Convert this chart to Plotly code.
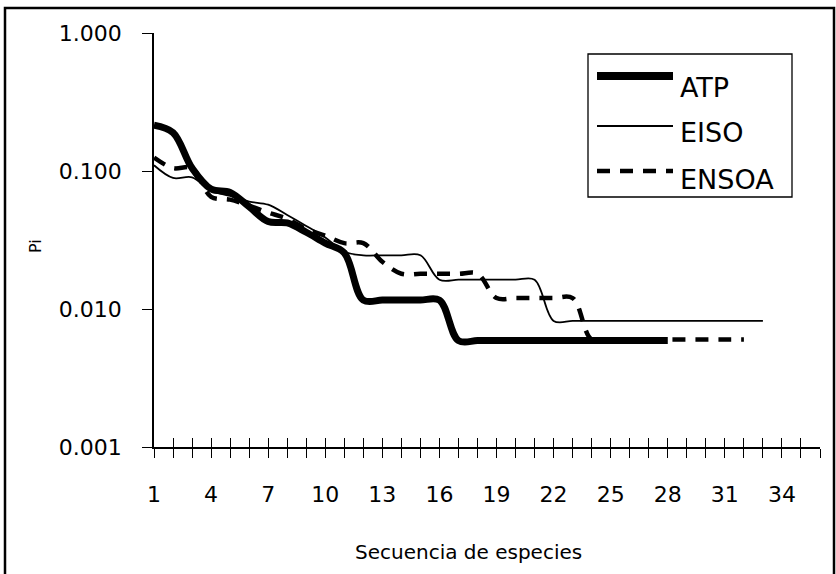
import plotly.graph_objects as go

# ---- data ----
atp = [0.215, 0.19, 0.105, 0.074, 0.070, 0.055, 0.043, 0.042, 0.036, 0.030, 0.0255,
       0.0116, 0.0116, 0.0116, 0.0116, 0.0116,
       0.0059, 0.0059, 0.0059, 0.0059, 0.0059, 0.0059, 0.0059, 0.0059, 0.0059, 0.0059, 0.0059, 0.0059]
eiso = [0.11, 0.089, 0.09, 0.072, 0.066, 0.060, 0.057, 0.048, 0.040, 0.033, 0.026,
        0.0245, 0.0245, 0.0245, 0.0245,
        0.0163, 0.0163, 0.0163, 0.0163, 0.0163, 0.0163,
        0.0082, 0.0082, 0.0082, 0.0082, 0.0082, 0.0082, 0.0082, 0.0082, 0.0082, 0.0082, 0.0082, 0.0082]
ensoa = [0.125, 0.105, 0.105, 0.065, 0.062, 0.056, 0.050, 0.045, 0.038, 0.034, 0.030, 0.030,
         0.022, 0.018, 0.018, 0.018, 0.018, 0.018,
         0.012, 0.012, 0.012, 0.012, 0.012,
         0.006, 0.006, 0.006, 0.006, 0.006, 0.006, 0.006, 0.006, 0.006]
series_names = ["ATP", "EISO", "ENSOA"]
x_tick_vals = list(range(1, 37))
x_tick_text = [str(v) if (v - 1) % 3 == 0 else "" for v in x_tick_vals]
y_tick_vals = [0.001, 0.01, 0.1, 1.0]
y_tick_text = ["0.001", "0.010", "0.100", "1.000"]

FONT = "DejaVu Sans"

fig = go.Figure()
styles = [dict(width=7, dash="solid"), dict(width=1.8, dash="solid"), dict(width=4.5, dash="13px,10px")]
for name, vals, st in zip(series_names, [atp, eiso, ensoa], styles):
    fig.add_trace(go.Scatter(
        x=list(range(1, len(vals) + 1)), y=vals, mode="lines", name=name,
        line=dict(color="black", width=st["width"], dash=st["dash"], shape="spline", smoothing=1.0),
        showlegend=False, xaxis="x", yaxis="y"))

# plot area geometry (pixels)
W, H = 836, 574
L, R, T, B = 154, 16, 33, 127
pw, ph = W - L - R, H - T - B
def px(x):
    return (x - L) / pw
def py(y):
    return (H - B - y) / ph

fig.update_layout(
    width=W, height=H,
    margin=dict(l=L, r=R, t=T, b=B, autoexpand=False),
    paper_bgcolor="white", plot_bgcolor="white",
    font=dict(family=FONT, color="black"),
    xaxis=dict(range=[1, 36], tickmode="array", tickvals=x_tick_vals, ticktext=x_tick_text,
               ticks="outside", ticklen=9, tickwidth=1.3, tickcolor="black",
               showline=True, linecolor="black", linewidth=1.5, showgrid=False, zeroline=False,
               tickfont=dict(size=22, family=FONT), ticklabelstandoff=18, automargin=False),
    xaxis2=dict(range=[1, 36], overlaying="x", anchor="y", side="bottom", tickmode="array",
                tickvals=x_tick_vals, ticks="inside", ticklen=9, tickwidth=1.3, tickcolor="black",
                showticklabels=False, showline=False, showgrid=False, zeroline=False),
    yaxis=dict(type="log", range=[-3, 0], tickmode="array", tickvals=y_tick_vals, ticktext=y_tick_text,
               ticks="outside", ticklen=10, tickwidth=1.3, tickcolor="black",
               showline=True, linecolor="black", linewidth=1.5, showgrid=False, zeroline=False,
               tickfont=dict(size=22, family=FONT), ticklabelstandoff=16, automargin=False),
)
# invisible trace on xaxis2 so the overlay axis is drawn
fig.add_trace(go.Scatter(x=[1], y=[0.001], mode="markers", marker=dict(opacity=0), xaxis="x2", yaxis="y",
                         showlegend=False, hoverinfo="skip"))

shapes = []
# outer frame
shapes.append(dict(type="rect", xref="paper", yref="paper", x0=px(5), x1=px(834), y0=py(590), y1=py(8),
                   line=dict(color="black", width=2.5), fillcolor="rgba(0,0,0,0)"))
# legend box
shapes.append(dict(type="rect", xref="paper", yref="paper", x0=px(588), x1=px(792), y0=py(197), y1=py(54),
                   line=dict(color="black", width=1.3), fillcolor="white"))
leg_line_y = [76, 126, 171]
leg_text_y = [87, 132, 179]
for st, ly in zip(styles, leg_line_y):
    shapes.append(dict(type="line", xref="paper", yref="paper", x0=px(597), x1=px(673), y0=py(ly), y1=py(ly),
                       line=dict(color="black", width=st["width"] if st["width"] < 7 else 8, dash=st["dash"])))
fig.update_layout(shapes=shapes)

ann = []
for name, ty in zip(series_names, leg_text_y):
    ann.append(dict(text=name, xref="paper", yref="paper", x=px(678), y=py(ty), xanchor="left", yanchor="middle",
                    showarrow=False, font=dict(size=27, family=FONT, color="black")))
ann.append(dict(text="Secuencia de especies", xref="paper", yref="paper", x=px(468), y=py(552),
                xanchor="center", yanchor="middle", showarrow=False, font=dict(size=20, family=FONT)))
ann.append(dict(text="Pi", xref="paper", yref="paper", x=px(35), y=py(246), textangle=-90,
                xanchor="center", yanchor="middle", showarrow=False, font=dict(size=16, family=FONT)))
fig.update_layout(annotations=ann)

fig.write_html("out.html")
